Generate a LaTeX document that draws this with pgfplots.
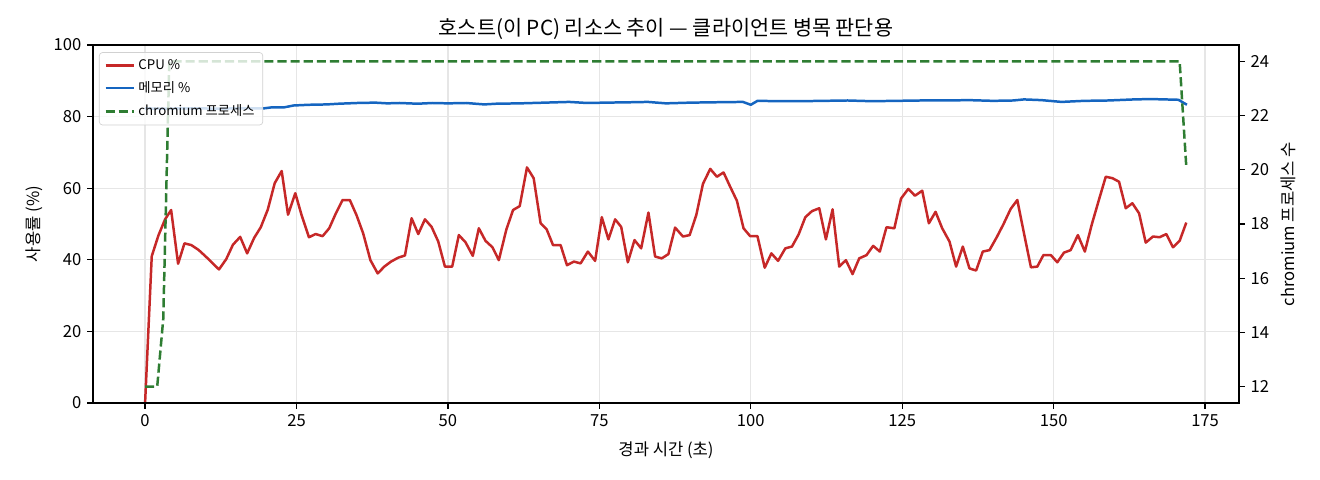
\documentclass[border=0pt]{standalone}
\usepackage{fontspec}
\setmainfont{Noto Sans CJK KR}
\usepackage{pgfplots}
\pgfplotsset{compat=1.18}
\definecolor{cpured}{HTML}{C62828}
\definecolor{memblue}{HTML}{1565C0}
\definecolor{chgreen}{HTML}{2E7D32}
\definecolor{gridc}{HTML}{E6E6E6}
\pgfplotsset{
  common/.style={
    scale only axis, width=687.6bp, height=214.8bp,
    at={(0,0)}, anchor=south west,
    xmin=-8.6, xmax=180.6,
    tick align=outside, major tick length=3.5pt,
    every tick/.style={black, line width=0.8pt},
    axis line style={line width=0.8pt},
    /pgf/number format/assume math mode=true,
    tick label style={font=\fontsize{10}{12}\selectfont},
    label style={font=\fontsize{10}{12}\selectfont},
  }
}
\begin{document}
\begin{tikzpicture}
\useasboundingbox (-55.8bp,-46.2bp) rectangle (736.2bp,241.8bp);
\begin{axis}[common,
  ymin=0, ymax=100,
  xtick={0,25,50,75,100,125,150,175},
  ytick={0,20,40,60,80,100},
  xtick pos=lower, ytick pos=left,
  grid=major, grid style={gridc, line width=0.8pt},
  xlabel={경과 시간 (초)}, ylabel={사용률 (\%)},
  xlabel style={yshift=-2pt},
  title={호스트(이 PC) 리소스 추이 — 클라이언트 병목 판단용},
  title style={font=\fontsize{12.5}{14}\selectfont, yshift=-6.5pt},
]
\addplot[cpured, line width=1.5pt, line join=round] coordinates {
(0,0)(1.1,41.0)(2.2,46.8)(3.3,51.3)(4.3,53.9)(5.45,38.9)(6.5,44.6)(7.65,44.1)(8.8,42.8)(9.9,41.1)
(11.0,39.3)(12.2,37.3)(13.4,40.2)(14.5,44.2)(15.7,46.4)(16.85,41.8)(18.0,46.1)(19.1,49.1)(20.25,54.0)(21.4,61.4)
(22.55,64.8)(23.6,52.6)(24.8,58.6)(25.85,52.4)(27.05,46.3)(28.15,47.2)(29.3,46.6)(30.4,48.8)(31.5,53.0)(32.6,56.7)
(33.8,56.7)(34.9,52.5)(36.0,47.4)(37.2,39.9)(38.4,36.2)(39.5,38.1)(40.6,39.5)(41.8,40.6)(42.9,41.2)(44.0,51.6)
(45.1,47.2)(46.2,51.3)(47.3,49.2)(48.4,45.1)(49.5,38.1)(50.7,38.1)(51.8,46.9)(52.9,44.9)(54.1,41.1)(55.1,48.8)
(56.2,45.3)(57.35,43.5)(58.4,39.9)(59.65,48.5)(60.75,53.9)(61.85,55.0)(63.05,65.8)(64.15,62.8)(65.3,50.2)(66.3,48.5)
(67.35,44.1)(68.6,44.1)(69.65,38.5)(70.8,39.5)(71.9,39.0)(73.1,42.3)(74.3,39.7)(75.4,51.9)(76.5,45.7)(77.6,51.3)
(78.6,49.2)(79.7,39.3)(80.8,45.5)(81.9,43.2)(83.1,53.2)(84.2,40.9)(85.3,40.4)(86.4,41.6)(87.5,49.0)(88.8,46.5)
(89.9,46.9)(91.0,52.5)(92.1,61.2)(93.3,65.4)(94.4,63.2)(95.5,64.4)(96.6,60.4)(97.7,56.5)(98.8,48.8)(99.9,46.6)
(101.1,46.6)(102.3,37.8)(103.4,41.8)(104.5,39.7)(105.7,43.2)(106.8,43.7)(107.9,47.1)(109.0,51.9)(110.1,53.6)(111.3,54.4)
(112.4,45.7)(113.5,54.1)(114.6,38.1)(115.7,39.9)(116.8,36.0)(117.9,40.4)(119.1,41.3)(120.2,43.9)(121.3,42.3)(122.4,49.1)
(123.7,48.8)(124.8,57.1)(126.0,59.8)(127.1,57.9)(128.3,59.3)(129.4,50.2)(130.5,53.4)(131.6,48.8)(132.8,45.1)(133.9,38.1)
(135.0,43.7)(136.1,37.6)(137.2,37.0)(138.3,42.3)(139.4,42.7)(140.6,46.3)(141.7,49.9)(142.9,54.2)(144.0,56.7)(145.1,47.4)
(146.25,37.9)(147.3,38.1)(148.3,41.3)(149.55,41.3)(150.6,39.3)(151.7,42.0)(152.8,42.7)(154.0,46.9)(155.15,42.3)(156.3,49.9)
(157.5,56.9)(158.6,63.2)(159.7,62.8)(160.8,61.8)(161.9,54.4)(163.0,55.8)(164.1,53.0)(165.2,44.8)(166.4,46.5)(167.5,46.3)
(168.6,47.2)(169.7,43.5)(170.8,45.3)(171.9,50.4)
};
\addplot[memblue, line width=1.5pt, line join=round] coordinates {
(0,82.3)(3,82.2)(6,82.3)(9,82.3)(12,82.2)(15,82.3)(18,82.3)(19.6,82.3)(21,82.6)(23,82.6)(24.5,83.1)(27,83.3)
(30,83.4)(32,83.6)(35,83.8)(38,83.9)(40,83.7)(42,83.8)(45,83.6)(47.5,83.8)(50,83.7)(53,83.8)(56,83.4)(58,83.6)
(62,83.7)(66,83.9)(70,84.1)(73,83.8)(76,83.9)(80,84.0)(83,84.1)(86,83.7)(90,83.9)(94,84.0)(98.7,84.1)(100,83.3)
(101.1,84.4)(105,84.3)(108,84.3)(112,84.4)(116,84.5)(120,84.3)(124,84.4)(128,84.5)(132,84.5)(136,84.6)(140,84.4)
(143.3,84.5)(145.1,84.8)(148,84.6)(151.3,84.1)(155,84.4)(159,84.5)(163.3,84.8)(166,84.9)(170.6,84.7)(172,83.3)
};
\end{axis}
\begin{axis}[common,
  ymin=11.4, ymax=24.6,
  xtick=\empty,
  ytick={12,14,16,18,20,22,24},
  ytick pos=right, yticklabel pos=right,
  ylabel={chromium 프로세스 수},
  legend style={at={(0.0052,0.980)}, anchor=north west,
    font=\fontsize{8}{9.6}\selectfont, draw=black!18, fill=white,
    fill opacity=0.8, text opacity=1, rounded corners=2pt,
    row sep=2.0pt, inner xsep=3pt, inner ysep=2pt},
  legend cell align=left,
  legend image code/.code={\draw[#1] (0cm,0cm) -- (0.6cm,0cm);},
]
\addlegendimage{cpured, line width=1.5pt}
\addlegendentry{CPU \%}
\addlegendimage{memblue, line width=1.5pt}
\addlegendentry{메모리 \%}
\addplot[chgreen, line width=1.5pt, dash pattern=on 5.5pt off 2.4pt] coordinates {
(0,12)(2,12)(3,14.5)(4,24)(170.8,24)(171.9,20.1)
};
\addlegendentry{chromium 프로세스}
\end{axis}
\end{tikzpicture}
\end{document}
